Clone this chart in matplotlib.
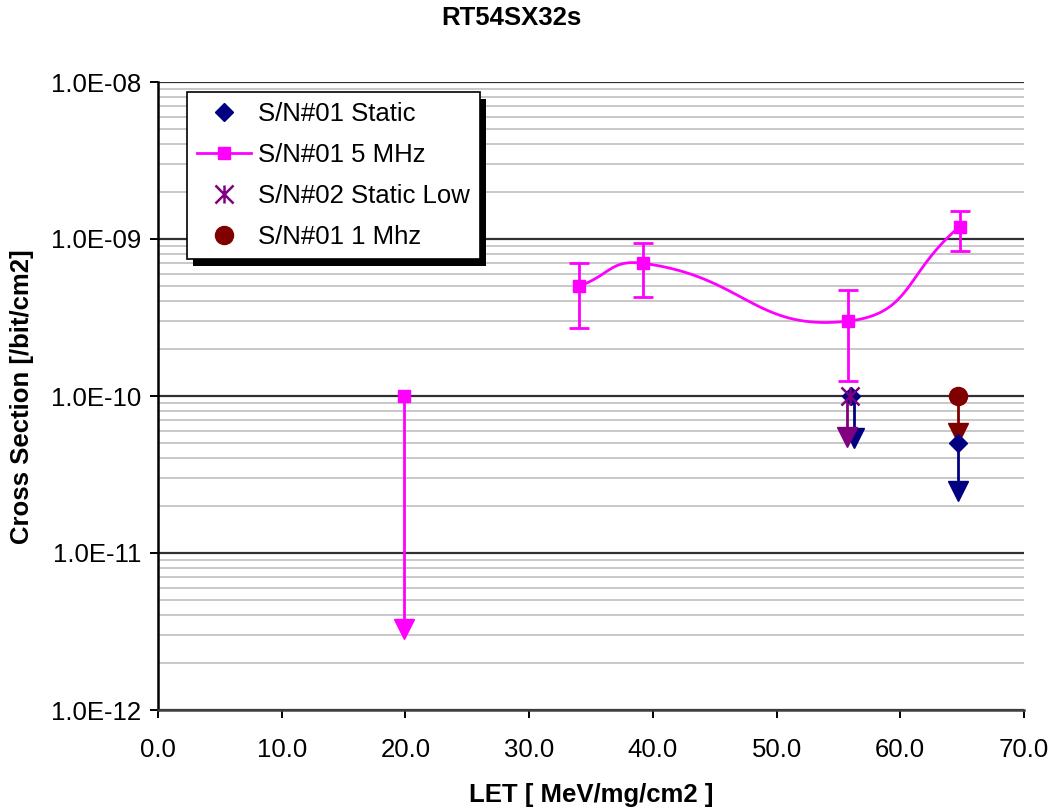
import numpy as np
import matplotlib
matplotlib.use("Agg")
import matplotlib.pyplot as plt
from matplotlib.path import Path
from matplotlib.patches import Rectangle
from matplotlib.ticker import FixedLocator, FuncFormatter, NullFormatter

plt.rcParams['font.family'] = ['Liberation Sans', 'DejaVu Sans']

# ---------------- data ----------------
title = "RT54SX32s"
xlabel = "LET [ MeV/mg/cm2 ]"
ylabel = "Cross Section [/bit/cm2]"

# S/N#01 5 MHz (connected, smoothed, with error bars)
mhz5_let = [34.0, 39.2, 55.8, 64.8]
mhz5_xs = [5.0e-10, 7.0e-10, 3.0e-10, 1.2e-9]
mhz5_err_hi = [7.0e-10, 9.4e-10, 4.7e-10, 1.5e-9]
mhz5_err_lo = [2.7e-10, 4.3e-10, 1.25e-10, 8.4e-10]
# S/N#01 5 MHz upper limit
mhz5_lim_let = [19.9]
mhz5_lim_xs = [1.0e-10]
mhz5_lim_arrow = [3.3e-12]

# S/N#01 Static (upper limits)
static_let = [56.0, 64.7]
static_xs = [1.0e-10, 5.0e-11]
static_arrow_let = [56.25, 64.7]
static_arrow = [5.4e-11, 2.5e-11]

# S/N#02 Static Low (upper limit)
low_let = [55.95]
low_xs = [1.0e-10]
low_arrow_let = [55.7]
low_arrow = [5.5e-11]

# S/N#01 1 Mhz (upper limit)
mhz1_let = [64.7]
mhz1_xs = [1.0e-10]
mhz1_arrow = [5.8e-11]

x_ticks = [0, 10, 20, 30, 40, 50, 60, 70]
y_ticks = [1e-12, 1e-11, 1e-10, 1e-9, 1e-8]

labels = ["S/N#01 Static", "S/N#01 5 MHz", "S/N#02 Static Low", "S/N#01 1 Mhz"]

NAVY = '#000080'
MAG = '#FF00FF'
PURP = '#800080'
DRED = '#800000'

FS = 18.5

# --------------- figure ---------------
fig = plt.figure(figsize=(10.55, 8.09), dpi=100)
ax = fig.add_axes([158/1055, 1 - 710/809, (1024-158)/1055, (710-82)/809])
ax.set_yscale('log')
ax.set_xlim(0, 70)
ax.set_ylim(1e-12, 1e-8)

# grid
ax.yaxis.set_major_locator(FixedLocator(y_ticks))
minors = [m * 10.0**e for e in range(-12, -8) for m in range(2, 10)]
ax.yaxis.set_minor_locator(FixedLocator(minors))
ax.yaxis.set_minor_formatter(NullFormatter())
ax.grid(True, which='minor', axis='y', color='#c8c8c8', lw=1.4, zorder=0)
ax.grid(True, which='major', axis='y', color='#303030', lw=1.6, zorder=0)
ax.set_axisbelow(True)

ax.xaxis.set_major_locator(FixedLocator(x_ticks))
ax.xaxis.set_major_formatter(FuncFormatter(lambda v, p: f"{v:.1f}"))
def yfmt(v, p):
    e = int(round(np.log10(v)))
    return f"1.0E{e:+03d}"
ax.yaxis.set_major_formatter(FuncFormatter(yfmt))

for s in ['top', 'right']:
    ax.spines[s].set_visible(False)
ax.spines['left'].set_color('black')
ax.spines['left'].set_linewidth(1.8)
ax.spines['bottom'].set_color('#404040')
ax.spines['bottom'].set_linewidth(1.8)
ax.tick_params(axis='both', which='major', direction='out', length=6, width=1.4,
               labelsize=FS, colors='black', pad=6)
ax.tick_params(axis='y', which='minor', length=0)
ax.tick_params(axis='x', pad=14)

# --- smoothed 5 MHz curve: Bezier with chord-weighted tangents, in screen space ---
def smooth(xs, ys, f=0.5, n=40):
    D = ax.transData.transform(np.column_stack([xs, ys]))
    m = len(D)
    out = []
    for i in range(m - 1):
        p1, p2 = D[i], D[i + 1]
        d12 = np.hypot(*(p2 - p1))
        if i > 0:
            p0 = D[i - 1]
            d01 = np.hypot(*(p1 - p0))
            c1 = p1 + (p2 - p0) * f * d12 / (d01 + d12)
        else:
            c1 = p1 + (p2 - p1) * f
        if i + 2 < m:
            p3 = D[i + 2]
            d23 = np.hypot(*(p3 - p2))
            c2 = p2 - (p3 - p1) * f * d12 / (d12 + d23)
        else:
            c2 = p2 - (p2 - p1) * f
        t = np.linspace(0, 1, n)[:, None]
        b = (1-t)**3*p1 + 3*(1-t)**2*t*c1 + 3*(1-t)*t**2*c2 + t**3*p2
        out.append(b)
    B = ax.transData.inverted().transform(np.vstack(out))
    return B[:, 0], B[:, 1]

# S/N#01 Static
for xa, ya, xb, yb in zip(static_let, static_xs, static_arrow_let, static_arrow):
    ax.plot([xb, xb], [ya, yb], color=NAVY, lw=2, zorder=3)
ax.plot(static_arrow_let, static_arrow, 'v', color=NAVY, ms=15, zorder=4, ls='none')
h_static, = ax.plot(static_let, static_xs, 'D', color=NAVY, ms=9, ls='none', zorder=5)

# S/N#01 5 MHz
sx, sy = smooth(mhz5_let, mhz5_xs)
ax.plot(sx, sy, color=MAG, lw=2, zorder=3)
yerr = [np.array(mhz5_xs) - np.array(mhz5_err_lo), np.array(mhz5_err_hi) - np.array(mhz5_xs)]
ax.errorbar(mhz5_let, mhz5_xs, yerr=yerr, fmt='none', ecolor=MAG, elinewidth=2,
            capsize=7, capthick=2, zorder=3)
ax.plot(mhz5_let, mhz5_xs, 's', color=MAG, ms=8.5, zorder=5)
for xa, ya, yb in zip(mhz5_lim_let, mhz5_lim_xs, mhz5_lim_arrow):
    ax.plot([xa, xa], [ya, yb], color=MAG, lw=2, zorder=3)
ax.plot(mhz5_lim_let, mhz5_lim_arrow, 'v', color=MAG, ms=15, ls='none', zorder=4)
ax.plot(mhz5_lim_let, mhz5_lim_xs, 's', color=MAG, ms=8.5, ls='none', zorder=5)
h_5, = ax.plot([], [], '-s', color=MAG, ms=8.5, lw=2)

# S/N#02 Static Low
star = Path([(-1, -1), (1, 1), (-1, 1), (1, -1), (0, -1), (0, 1)],
            [Path.MOVETO, Path.LINETO, Path.MOVETO, Path.LINETO, Path.MOVETO, Path.LINETO])
for xa, ya, xb, yb in zip(low_let, low_xs, low_arrow_let, low_arrow):
    ax.plot([xb, xb], [ya, yb], color=PURP, lw=2, zorder=3)
ax.plot(low_arrow_let, low_arrow, 'v', color=PURP, ms=15, ls='none', zorder=4)
h_low, = ax.plot(low_let, low_xs, marker=star, color=PURP, ms=13, mew=1.8,
                 ls='none', zorder=6)

# S/N#01 1 Mhz
for xa, ya, yb in zip(mhz1_let, mhz1_xs, mhz1_arrow):
    ax.plot([xa, xa], [ya, yb], color=DRED, lw=2, zorder=3)
ax.plot(mhz1_let, mhz1_arrow, 'v', color=DRED, ms=15, ls='none', zorder=4)
h_1, = ax.plot(mhz1_let, mhz1_xs, 'o', color=DRED, ms=13, ls='none', zorder=5)

# legend
leg = ax.legend([h_static, h_5, h_low, h_1], labels, loc='upper left',
                bbox_to_anchor=((187-158)/866, (710-92)/628), borderaxespad=0,
                fontsize=FS, frameon=True, fancybox=False, framealpha=1,
                edgecolor='black', borderpad=0.4, labelspacing=0.66,
                handlelength=2.1, handletextpad=0.25)
leg.get_frame().set_linewidth(1.2)
leg.set_zorder(10)

fig.canvas.draw()
bb = leg.get_frame().get_window_extent()
shadow = Rectangle((bb.x0 + 6, bb.y0 - 7), bb.width, bb.height, transform=None,
                   facecolor='black', edgecolor='none', zorder=9)
shadow.set_clip_on(False)
ax.add_artist(shadow)

# texts
fig.text(511/1055, 1 - 18/809, title, ha='center', va='center', fontsize=FS,
         fontweight='bold')
fig.text(591/1055, 1 - 795/809, xlabel, ha='center', va='center', fontsize=FS,
         fontweight='bold')
fig.text(22/1055, 1 - 397/809, ylabel, ha='center', va='center', fontsize=FS,
         fontweight='bold', rotation=90)

fig.savefig('out.png', dpi=100)
